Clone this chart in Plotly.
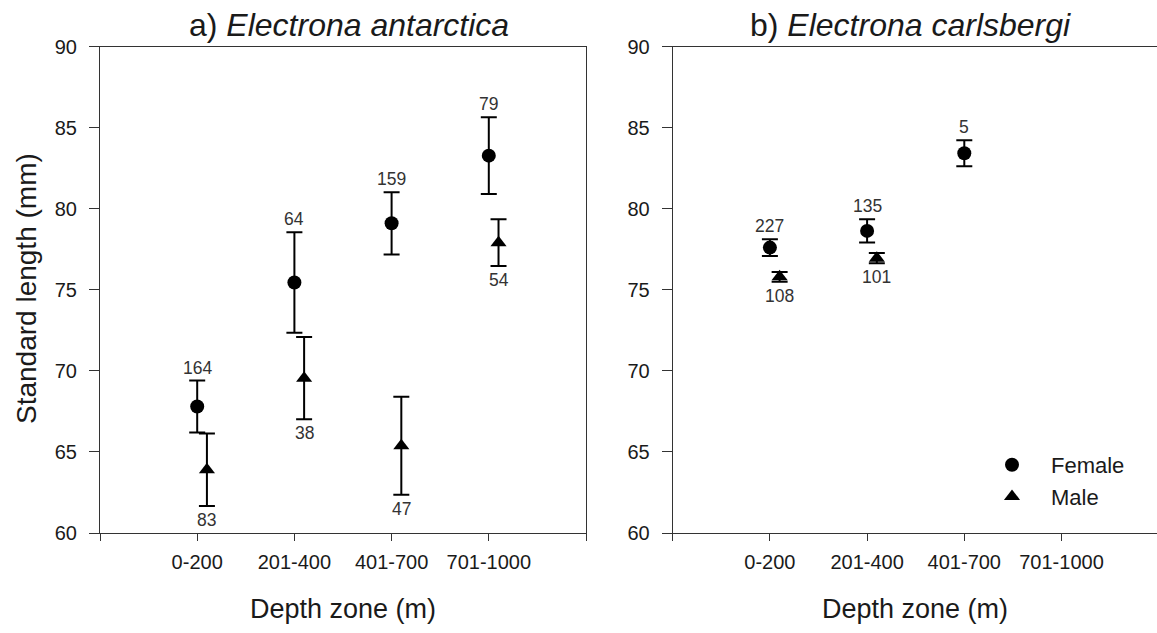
import plotly.graph_objects as go

# ---------------- data ----------------
zones = ["0-200", "201-400", "401-700", "701-1000"]

# a) Electrona antarctica
a_female_mean = [67.8, 75.45, 79.1, 83.27]
a_female_err = [1.6, 3.1, 1.92, 2.37]
a_female_n = [164, 64, 159, 79]
a_male_mean = [63.9, 69.55, 65.38, 77.9]
a_male_err = [2.24, 2.53, 3.02, 1.44]
a_male_n = [83, 38, 47, 54]

# b) Electrona carlsbergi
b_female_mean = [77.6, 78.63, 83.42, None]
b_female_err = [0.52, 0.72, 0.8, None]
b_female_n = [227, 135, 5, None]
b_male_mean = [75.8, 76.95, None, None]
b_male_err = [0.3, 0.32, None, None]
b_male_n = [108, 101, None, None]

y_ticks = [60, 65, 70, 75, 80, 85, 90]

# ---------------- styling ----------------
FONT = "Liberation Sans, Arial, sans-serif"
TXT = "#1a1a1a"
LINE = "#333333"
MALE_OFFSET = 0.1
W, H = 1157, 633

pos = list(range(1, len(zones) + 1))
fig = go.Figure()


def add_series(xa, ya, means, errs, offset, symbol):
    xs = [p + offset for p in pos]
    fig.add_trace(go.Scatter(
        x=xs, y=means, mode="markers", xaxis=xa, yaxis=ya, showlegend=False,
        marker=dict(symbol=symbol, size=14, color="black"),
        error_y=dict(type="data", array=[e if e is not None else 0 for e in errs],
                     visible=True, color="black", thickness=2, width=8),
        hoverinfo="skip",
    ))


def add_labels(xref, yref, means, errs, ns, offset, above):
    for p, m, e, n in zip(pos, means, errs, ns):
        if m is None:
            continue
        y = m + e if above else m - e
        fig.add_annotation(
            x=p + offset, y=y, xref=xref, yref=yref, text=str(n), showarrow=False,
            yanchor="middle", yshift=13 if above else -14,
            font=dict(family=FONT, size=17.5, color="#333333"),
        )


add_series("x", "y", a_female_mean, a_female_err, 0.0, "circle")
add_series("x", "y", a_male_mean, a_male_err, MALE_OFFSET, "triangle-up")
add_series("x2", "y2", b_female_mean, b_female_err, 0.0, "circle")
add_series("x2", "y2", b_male_mean, b_male_err, MALE_OFFSET, "triangle-up")

add_labels("x", "y", a_female_mean, a_female_err, a_female_n, 0.0, True)
add_labels("x", "y", a_male_mean, a_male_err, a_male_n, MALE_OFFSET, False)
add_labels("x2", "y2", b_female_mean, b_female_err, b_female_n, 0.0, True)
add_labels("x2", "y2", b_male_mean, b_male_err, b_male_n, MALE_OFFSET, False)

# legend-only traces
fig.add_trace(go.Scatter(x=[None], y=[None], mode="markers", name="Female",
                         marker=dict(symbol="circle", size=14, color="black"),
                         xaxis="x2", yaxis="y2"))
fig.add_trace(go.Scatter(x=[None], y=[None], mode="markers", name="Male",
                         marker=dict(symbol="triangle-up", size=14, color="black"),
                         xaxis="x2", yaxis="y2"))

tickvals = [0] + pos + [len(zones) + 1]
ticktext = [""] + zones + [""]

ytop, ybot = 46.5, 533.0
ydom = [1 - ybot / H, 1 - ytop / H]
ax_l, ax_r = 100.0, 586.0
unit = (ax_r - ax_l) / 5.0
bx_l = 672.7
b_range_max = (W - bx_l) / unit

common_x = dict(showgrid=False, zeroline=False, showline=True, linecolor=LINE, linewidth=1,
                ticks="outside", ticklen=7, tickcolor=LINE, tickwidth=1, automargin=False,
                tickvals=tickvals, ticktext=ticktext,
                tickfont=dict(family=FONT, size=20, color=TXT), ticklabelstandoff=4)
common_y = dict(showgrid=False, zeroline=False, showline=True, linecolor=LINE, linewidth=1,
                ticks="outside", ticklen=10, tickcolor=LINE, tickwidth=1, automargin=False,
                tickvals=y_ticks, range=[60, 90],
                tickfont=dict(family=FONT, size=20, color=TXT), ticklabelstandoff=8)

fig.update_layout(
    width=W, height=H, margin=dict(l=0, r=0, t=0, b=0, autoexpand=False),
    paper_bgcolor="white", plot_bgcolor="white",
    xaxis=dict(domain=[ax_l / W, ax_r / W], range=[0, 5], mirror=True, anchor="y", **common_x),
    yaxis=dict(domain=ydom, mirror=True, anchor="x", **common_y),
    xaxis2=dict(domain=[bx_l / W, 1.0], range=[0, b_range_max], mirror=True, anchor="y2", **common_x),
    yaxis2=dict(domain=ydom, mirror=False, anchor="x2", **common_y),
    showlegend=True,
    legend=dict(x=973 / W, y=1 - 481 / H, xanchor="left", yanchor="middle",
                bgcolor="rgba(0,0,0,0)", font=dict(family=FONT, size=22, color=TXT),
                itemwidth=68, tracegroupgap=0),
)

# titles
fig.add_annotation(x=349 / W, y=1 - 25 / H, xref="paper", yref="paper", showarrow=False,
                   text="a) <i>Electrona antarctica</i>", xanchor="center", yanchor="middle",
                   font=dict(family=FONT, size=32, color=TXT))
fig.add_annotation(x=910 / W, y=1 - 25 / H, xref="paper", yref="paper", showarrow=False,
                   text="b) <i>Electrona carlsbergi</i>", xanchor="center", yanchor="middle",
                   font=dict(family=FONT, size=32, color=TXT))
for xc in (342.5, 915):
    fig.add_annotation(x=xc / W, y=1 - 609 / H, xref="paper", yref="paper", showarrow=False,
                       text="Depth zone (m)", xanchor="center", yanchor="middle",
                       font=dict(family=FONT, size=27, color=TXT))
fig.add_annotation(x=26 / W, y=1 - 289 / H, xref="paper", yref="paper", showarrow=False,
                   text="Standard length (mm)", textangle=-90, xanchor="center", yanchor="middle",
                   font=dict(family=FONT, size=28, color=TXT))

fig.write_html("out.html", config={"displayModeBar": False},
               post_script="document.body.style.margin='0';document.body.style.overflow='hidden';")
